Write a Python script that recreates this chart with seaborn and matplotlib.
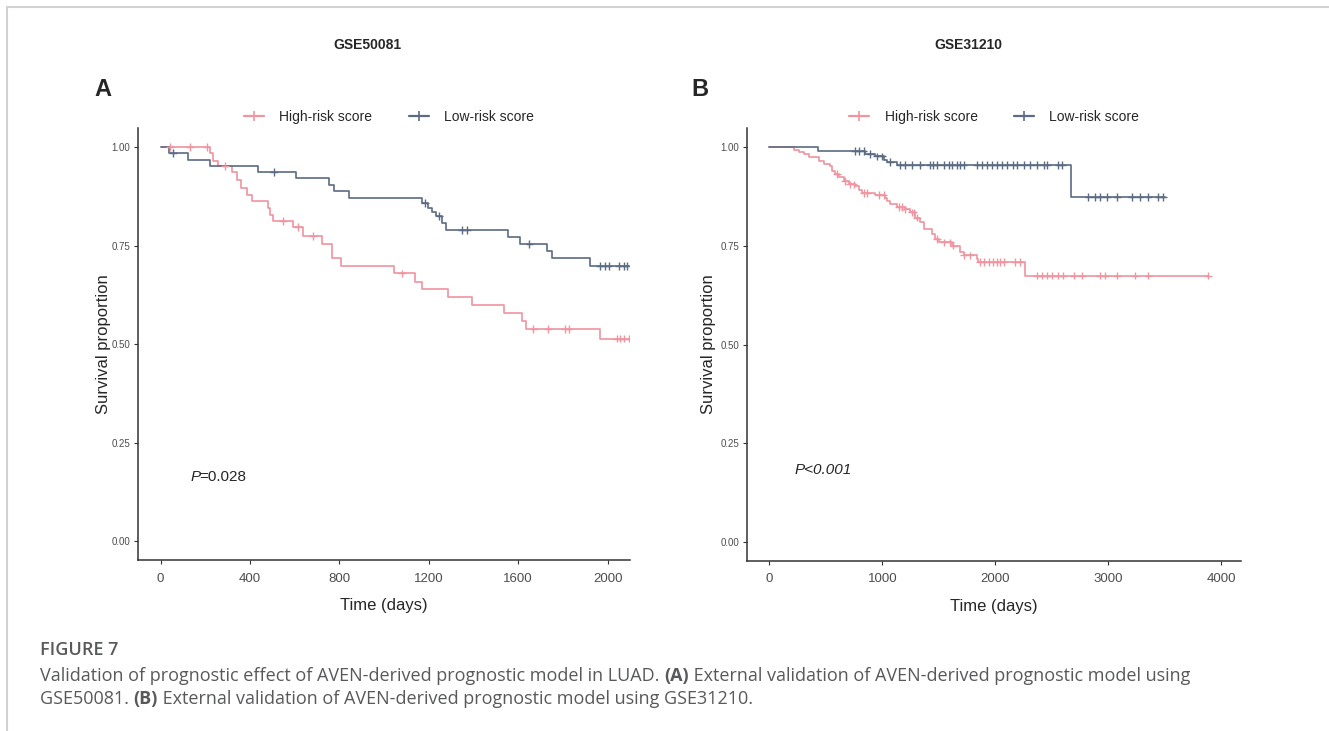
import numpy as np
import pandas as pd
import matplotlib
matplotlib.use("Agg")
import matplotlib.pyplot as plt
from matplotlib.lines import Line2D
import seaborn as sns

# ---------------- data ----------------
groups = ["High-risk score", "Low-risk score"]
panel_titles = ["GSE50081", "GSE31210"]
panel_letters = ["A", "B"]
p_texts = ["=0.028", "P<0.001"]

# Panel A (GSE50081)
A_high_t = [0, 220, 235, 258, 318, 340, 362, 385, 407, 481, 489, 504, 593, 636, 721, 765, 807,
            1046, 1138, 1171, 1285, 1392, 1538, 1616, 1634, 1964]
A_high_s = [1.0, 0.985, 0.964, 0.953, 0.938, 0.917, 0.896, 0.879, 0.864, 0.845, 0.828, 0.813, 0.797,
            0.775, 0.754, 0.718, 0.698, 0.680, 0.658, 0.639, 0.620, 0.599, 0.580, 0.559, 0.539, 0.514]
A_high_end = 2097
A_high_cens = [41, 131, 206, 288, 549, 616, 683, 1079, 1668, 1735, 1810, 1825, 2042, 2056, 2071, 2097]

A_low_t = [0, 38, 123, 220, 437, 605, 755, 776, 844, 1168, 1198, 1213, 1232, 1258, 1277, 1553,
           1609, 1728, 1751, 1919]
A_low_s = [1.0, 0.985, 0.968, 0.953, 0.938, 0.921, 0.904, 0.889, 0.872, 0.859, 0.847, 0.836, 0.825,
           0.807, 0.790, 0.771, 0.754, 0.737, 0.718, 0.698]
A_low_end = 2097
A_low_cens = [56, 507, 1183, 1247, 1348, 1370, 1650, 1967, 1989, 2004, 2049, 2071, 2086]

# Panel B (GSE31210)
B_high_t = [0, 214, 258, 303, 347, 435, 479, 539, 554, 583, 612, 656, 701, 760, 789, 819, 937, 1025,
            1040, 1069, 1128, 1202, 1246, 1291, 1335, 1364, 1438, 1468, 1497, 1615, 1689, 1718, 1836,
            1850, 2264]
B_high_s = [1.0, 0.994, 0.987, 0.982, 0.975, 0.966, 0.958, 0.952, 0.941, 0.933, 0.924, 0.914, 0.906,
            0.902, 0.893, 0.885, 0.879, 0.872, 0.864, 0.856, 0.849, 0.843, 0.835, 0.822, 0.810, 0.793,
            0.780, 0.768, 0.759, 0.751, 0.734, 0.726, 0.717, 0.709, 0.675]
B_high_end = 3885
B_high_cens = [598, 671, 716, 745, 833, 863, 966, 1011, 1143, 1173, 1202, 1261, 1276, 1305, 1482,
               1541, 1600, 1629, 1718, 1777, 1866, 1895, 1939, 1983, 2013, 2042, 2072, 2175, 2219,
               2367, 2411, 2455, 2500, 2558, 2602, 2691, 2765, 2927, 2971, 3075, 3237, 3354, 3885]

B_low_t = [0, 430, 848, 937, 1011, 1040, 1128, 2668]
B_low_s = [1.0, 0.990, 0.983, 0.977, 0.969, 0.963, 0.955, 0.874]
B_low_end = 3502
B_low_cens = [760, 789, 833, 893, 952, 996, 1069, 1158, 1202, 1261, 1335, 1423, 1452, 1482, 1541,
              1585, 1615, 1659, 1689, 1718, 1836, 1880, 1925, 1969, 2013, 2057, 2101, 2160, 2190,
              2249, 2308, 2367, 2426, 2455, 2558, 2588, 2823, 2883, 2927, 2986, 3075, 3207, 3281,
              3354, 3443, 3487]

A_xticks = [0, 400, 800, 1200, 1600, 2000]
B_xticks = [0, 1000, 2000, 3000, 4000]
y_ticks = [0.0, 0.25, 0.50, 0.75, 1.00]
y_ticklabels = ["0.00", "0.25", "0.50", "0.75", "1.00"]

caption_head = "FIGURE 7"
caption_l1 = [("Validation of prognostic effect of AVEN-derived prognostic model in LUAD. ", False),
              ("(A)", True),
              (" External validation of AVEN-derived prognostic model using", False)]
caption_l2 = [("GSE50081. ", False), ("(B)", True),
              (" External validation of AVEN-derived prognostic model using GSE31210.", False)]

# ---------------- style ----------------
sns.set_style("ticks")
plt.rcParams["font.family"] = ["Liberation Sans", "DejaVu Sans"]

PINK = "#F0949F"
BLUE = "#5B6B83"
palette = {groups[0]: PINK, groups[1]: BLUE}

W, H = 1329, 731
fig = plt.figure(figsize=(W / 100, H / 100), dpi=100)


def step_df(t, s, end, name):
    tt = list(t) + [end]
    ss = list(s) + [s[-1]]
    return pd.DataFrame({"time": tt, "surv": ss, "group": name})


def cens_df(t, s, cens, name):
    t = np.asarray(t)
    s = np.asarray(s)
    idx = np.searchsorted(t, np.asarray(cens), side="right") - 1
    return pd.DataFrame({"time": cens, "surv": s[idx], "group": name})


def px_axes(left, top, right, bottom):
    return fig.add_axes([left / W, 1 - bottom / H, (right - left) / W, (bottom - top) / H])


panels = [
    dict(ax=px_axes(138, 127.6, 630, 560),
         curves=[(A_high_t, A_high_s, A_high_end, A_high_cens, groups[0]),
                 (A_low_t, A_low_s, A_low_end, A_low_cens, groups[1])],
         xlim=(-101, 2100), xticks=A_xticks),
    dict(ax=px_axes(747, 127.6, 1241, 561),
         curves=[(B_high_t, B_high_s, B_high_end, B_high_cens, groups[0]),
                 (B_low_t, B_low_s, B_low_end, B_low_cens, groups[1])],
         xlim=(-198, 4173), xticks=B_xticks),
]

for i, p in enumerate(panels):
    ax = p["ax"]
    lines = pd.concat([step_df(t, s, e, n) for t, s, e, c, n in p["curves"]], ignore_index=True)
    cens = pd.concat([cens_df(t, s, c, n) for t, s, e, c, n in p["curves"]], ignore_index=True)
    sns.lineplot(data=lines, x="time", y="surv", hue="group", palette=palette,
                 drawstyle="steps-post", estimator=None, sort=False, lw=1.2, ax=ax, legend=False)
    sns.scatterplot(data=cens, x="time", y="surv", hue="group", palette=palette,
                    marker="+", s=30, linewidth=1.0, ax=ax, legend=False, zorder=3)
    ax.set_xlim(*p["xlim"])
    ax.set_ylim(-0.048, 1.05)
    ax.set_xticks(p["xticks"])
    ax.set_xticklabels([str(v) for v in p["xticks"]], fontsize=9.5, color="#4D4D4D")
    ax.set_yticks(y_ticks)
    ax.set_yticklabels(y_ticklabels, fontsize=7, color="#4D4D4D")
    for side in ["top", "right"]:
        ax.spines[side].set_visible(False)
    for side in ["left", "bottom"]:
        ax.spines[side].set_linewidth(1.1)
        ax.spines[side].set_color("#333333")
    ax.tick_params(axis="both", length=3, width=0.8, color="#333333", pad=2.5)
    ax.tick_params(axis="x", pad=6)
    ax.set_xlabel("Time (days)", fontsize=12, labelpad=10)
    ax.set_ylabel("Survival proportion", fontsize=12)
    ax.yaxis.set_label_coords(-0.054 if i == 0 else -0.063, 0.5)

    handles = [Line2D([], [], color=palette[g], lw=1.6, marker="+", markersize=7, mew=1.2)
               for g in groups]
    ax.legend(handles, groups, loc="center", bbox_to_anchor=(0.51 if i == 0 else 0.5, 1.024),
              ncol=2, frameon=False, fontsize=10, handlelength=1.45, handletextpad=1.1,
              columnspacing=2.6, borderaxespad=0)

# p-values
ax0, ax1 = panels[0]["ax"], panels[1]["ax"]
ax0.text(0.1075, 0.192, "P", style="italic", fontsize=11, transform=ax0.transAxes, va="center")
ax0.text(0.1075 + 0.0165, 0.192, p_texts[0], fontsize=11, transform=ax0.transAxes, va="center")
ax1.text(0.097, 0.21, p_texts[1], style="italic", fontsize=11, transform=ax1.transAxes, va="center")

# titles & panel letters
fig.text(367 / W, 1 - 45 / H, panel_titles[0], fontsize=10, weight="bold", ha="center", va="center")
fig.text(968 / W, 1 - 45 / H, panel_titles[1], fontsize=10, weight="bold", ha="center", va="center")
fig.text(103 / W, 1 - 90 / H, panel_letters[0], fontsize=17, weight="bold", ha="center", va="center")
fig.text(700 / W, 1 - 90 / H, panel_letters[1], fontsize=17, weight="bold", ha="center", va="center")

# frame lines (page border)
fig.add_artist(Line2D([7 / W, 1], [1 - 7 / H, 1 - 7 / H], color="#D2D2D2", lw=1.5,
                      transform=fig.transFigure))
fig.add_artist(Line2D([7 / W, 7 / W], [1 - 7 / H, 0], color="#D2D2D2", lw=1.5,
                      transform=fig.transFigure))

# caption
CAP = "#58595B"
cap_font = ["Open Sans", "DejaVu Sans"]
CAP_SIZE = 13
fig.text(40 / W, 1 - 650 / H, caption_head, fontsize=CAP_SIZE, weight="semibold", color=CAP,
         family=cap_font, va="center")

fig.canvas.draw()
renderer = fig.canvas.get_renderer()


def draw_runs(runs, y_px, size):
    x = 40 / W
    for txt, bold in runs:
        t = fig.text(x, 1 - y_px / H, txt, fontsize=size, color=CAP, family=cap_font,
                     weight="bold" if bold else "normal", va="center")
        bb = t.get_window_extent(renderer=renderer)
        x += bb.width / W


draw_runs(caption_l1, 676, CAP_SIZE)
draw_runs(caption_l2, 699, CAP_SIZE)

fig.savefig("out.png", dpi=100)
